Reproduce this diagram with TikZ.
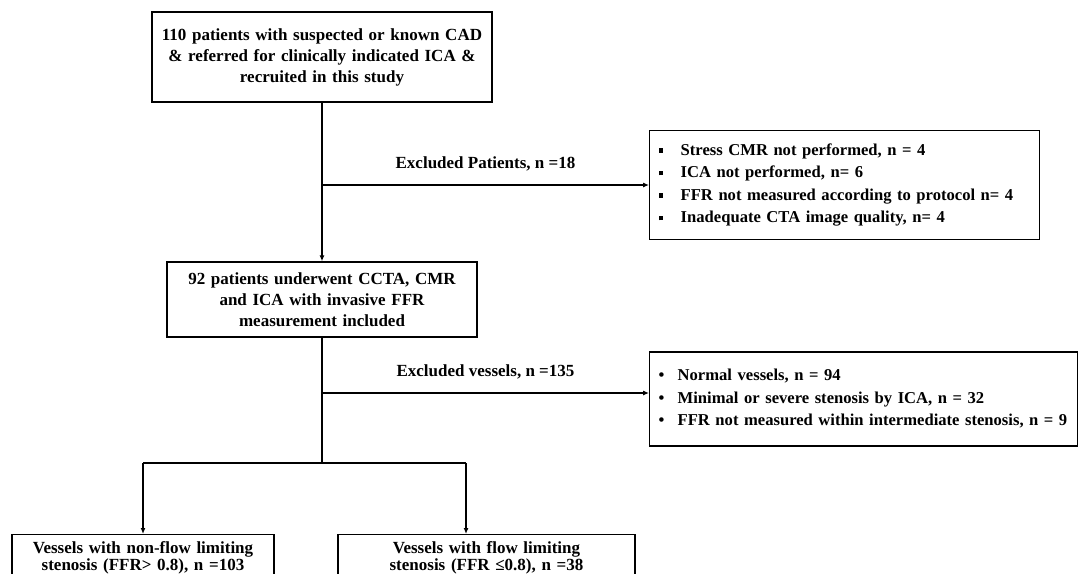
\documentclass[tikz,border=0pt]{standalone}
\usepackage{fontspec}
\setmainfont{Liberation Serif}
\usetikzlibrary{arrows.meta}
\tikzset{
  box/.style={draw, line width=1.4pt, inner xsep=8pt, align=center, font=\bfseries\fontsize{17}{21}\selectfont},
  listbox/.style={box, align=left, inner xsep=9pt, font=\bfseries\fontsize{16.6}{22.5}\selectfont},
  endbox/.style={box, anchor=north, inner ysep=7pt, font=\bfseries\fontsize{17}{14}\selectfont},
  flowline/.style={line width=2.4pt},
  branch/.style={line width=1.6pt},
  exline/.style={line width=1.1pt},
  arr/.style={-{Latex[length=6pt,width=5pt]}},
  lbl/.style={font=\bfseries\fontsize{17}{21}\selectfont, above=10pt},
}
\newcommand{\sqitem}[1]{\mbox{\makebox[22pt][l]{\rule[2.5pt]{4.5pt}{4.5pt}}#1}}
\newcommand{\dotitem}[1]{\mbox{\makebox[19pt][l]{\textbullet}#1}}

\begin{document}
\begin{tikzpicture}[x=1pt,y=-1pt]
\clip (0,0) rectangle (1079,573);
% main column
\node[box, text width=324pt, minimum height=90pt] (recruit) at (322,57)
  {110 patients with suspected or known CAD\\ \& referred for clinically indicated ICA \&\\ recruited in this study};
\node[box, text width=294pt, minimum height=75pt] (included) at (322,299.5)
  {92 patients underwent CCTA, CMR\\ and ICA with invasive FFR\\ measurement included};
% exclusions
\node[listbox, text width=372pt, minimum height=109pt, anchor=west] (patex) at (649,185)
  {\sqitem{Stress CMR not performed, n = 4}\\
   \sqitem{ICA not performed, n= 6}\\
   \sqitem{FFR not measured according to protocol n= 4}\\
   \sqitem{Inadequate CTA image quality, n= 4}};
\node[listbox, text width=410pt, minimum height=94pt, anchor=west] (vesex) at (649,399)
  {\dotitem{Normal vessels, n = 94}\\
   \dotitem{Minimal or severe stenosis by ICA, n = 32}\\
   \dotitem{FFR not measured within intermediate stenosis, n = 9}};
% outcome boxes
\node[endbox, text width=246pt] (nonflow) at (143,534)
  {Vessels with non-flow limiting\\ stenosis (FFR> 0.8), n =103};
\node[endbox, text width=281pt] (flowlim) at (486.5,534)
  {Vessels with flow limiting\\ stenosis (FFR ≤0.8), n =38};

\coordinate (ex1) at (recruit.south |- patex.west);
\coordinate (ex2) at (322,393);
\coordinate (split) at (322,463);
\coordinate (splitL) at (nonflow.north |- split);
\coordinate (splitR) at (466,463);

\draw[flowline, arr] (recruit) -- (included);
\draw[exline, arr] (ex1) -- (patex.west) node[midway, lbl] {Excluded Patients, n =18};
\draw[exline, arr] (ex2) -- (ex2 -| vesex.west) node[midway, lbl] {Excluded vessels, n =135};
\draw[flowline] (included) -- (split);
\draw[branch] (splitL) -- (splitR);
\draw[branch, arr] (splitL) -- (nonflow);
\draw[branch, arr] (splitR) -- (splitR |- flowlim.north);
\end{tikzpicture}
\end{document}
